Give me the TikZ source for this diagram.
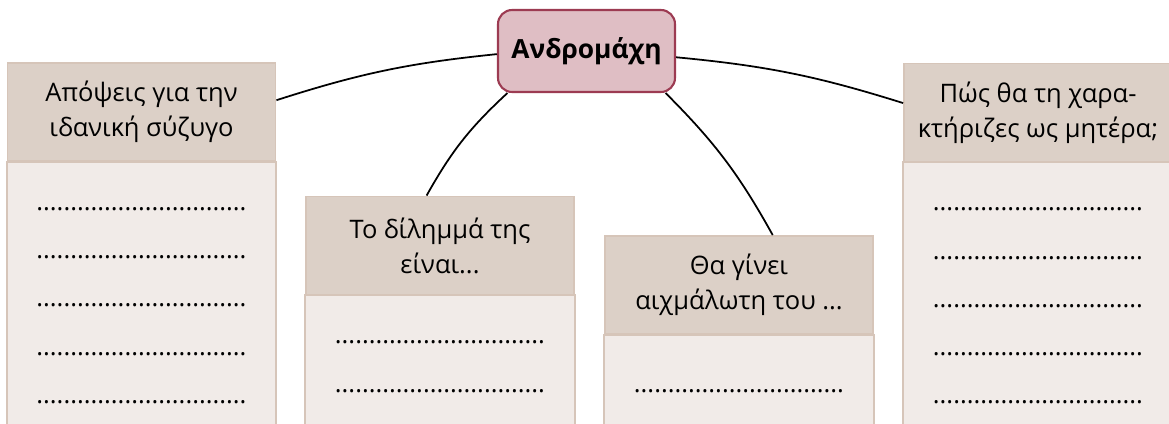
\documentclass[tikz,border=0pt]{standalone}
\usepackage{fontspec}
\setmainfont{Open Sans}
\usetikzlibrary{positioning,calc}
\definecolor{headfill}{HTML}{DCD0C7}
\definecolor{bodyfill}{HTML}{F1EBE8}
\definecolor{boxline}{HTML}{D6C5B9}
\definecolor{rootfill}{HTML}{DFBEC4}
\definecolor{rootline}{HTML}{9C3B52}

\begin{document}
\begin{tikzpicture}[x=0.02cm, y=-0.02cm,
    head/.style={rectangle, draw=boxline, fill=headfill, line width=1.1pt, minimum width=5.36cm, minimum height=1.96cm, align=center, font=\fontsize{14.5}{20}\selectfont},
    body/.style={draw=boxline, fill=bodyfill, line width=1.1pt},
    dotline/.style={anchor=base, font=\fontsize{14.5}{20}\selectfont},
    root/.style={rectangle, rounded corners=8pt, draw=rootline, fill=rootfill, line width=1.2pt, minimum width=3.54cm, minimum height=1.64cm, font=\bfseries\fontsize{15}{20}\selectfont},
    link/.style={line width=1pt, black}
]
\useasboundingbox (0,0) rectangle (1169,423);
\clip (0,0) rectangle (1169,423);

% Centre
\node[root] (root) at (586.5, 51) {Ανδρομάχη};

% Headers
\node[head] (h1) at (141.5, 112) {Απόψεις για την\\ιδανική σύζυγο};
\node[head] (h2) at (440, 245.5) {Το δίλημμά της\\είναι...};
\node[head] (h3) at (739, 285) {Θα γίνει\\αιχμάλωτη του ...};
\node[head] (h4) at (1038, 112.5) {Πώς θα τη χαρα-\\κτήριζες ως μητέρα;};

% Bodies
\draw[body] (h1.south west) rectangle ($(h1.south east)+(0,300)$);
\draw[body] (h2.south west) rectangle ($(h2.south east)+(0,300)$);
\draw[body] (h3.south west) rectangle ($(h3.south east)+(0,300)$);
\draw[body] (h4.south west) rectangle ($(h4.south east)+(0,300)$);

% Dotted lines to fill in
\foreach \k in {1,...,5} {
    \node[dotline] (d1\k) at ($(h1.south)+(0,48.3*\k)$) {...............................};
    \node[dotline] (d4\k) at ($(h4.south)+(0,48.3*\k)$) {...............................};
}
\foreach \k in {1,2}
    \node[dotline] (d2\k) at ($(h2.south)+(0,48.5*\k)$) {...............................};
\node[dotline] (d31) at ($(h3.south)+(0,58)$) {...............................};

% Connectors
\draw[link] (h1.5) to[bend left=6] (root.182);
\draw[link] (h2.105) to[bend left=9] (root.208);
\draw[link] (root.332) to[bend left=8] (h3.56);
\draw[link] (root.356) to[bend left=6] (h4.176);

\end{tikzpicture}
\end{document}
